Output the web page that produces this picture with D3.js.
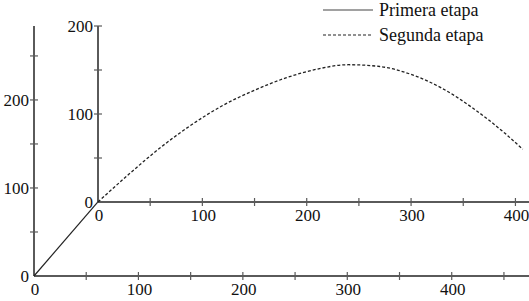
<!DOCTYPE html>
<html>
<head>
<meta charset="utf-8">
<script src="https://cdn.jsdelivr.net/npm/d3@7"></script>
<style>
  body { margin: 0; background: #fff; }
  svg { display: block; font-family: "Liberation Serif", "Times New Roman", serif; }
</style>
</head>
<body>
<svg id="chart" width="529" height="301"></svg>
<script>
// Two-stage trajectory: outer axes for stage 1, inner (shifted) axes for stage 2.

const outerXTicks = [0, 50, 100, 150, 200, 250, 300, 350, 400, 450];
const outerYTicks = [0, 50, 100, 150, 200, 250];
const innerXTicks = [0, 50, 100, 150, 200, 250, 300, 350, 400];
const innerYTicks = [0, 50, 100, 150, 200];

// stage 1 in outer coordinates
const stage1X = [0, 61];
const stage1Y = [0, 84];

// stage 2 in inner coordinates
const stage2X = [0, 30, 60, 90, 120, 150, 180, 210, 240, 270, 300, 330, 360, 390, 407];
const stage2Y = [0, 32, 62, 88, 110, 127, 141, 151, 156, 154, 145, 129, 106, 78, 60];

const legendLabels = ["Primera etapa", "Segunda etapa"];

const svg = d3.select("#chart");
const axisColor = "#5a5a5a";
const fontSize = 17;

const ox = d3.scaleLinear().domain([0, 474]).range([34, 529]);
const oy = d3.scaleLinear().domain([0, 284]).range([276, 26]);
const ix = d3.scaleLinear().domain([0, 413]).range([98, 529]);
const iy = d3.scaleLinear().domain([0, 200]).range([202, 26]);

function label(v) { return v % 100 === 0 ? v : ""; }

function drawXAxis(x, y0, ticks) {
  const g = svg.append("g").attr("transform", `translate(0,${y0})`);
  g.append("line")
    .attr("x1", x.range()[0]).attr("x2", x.range()[1])
    .attr("stroke", axisColor).attr("stroke-width", 2);
  g.selectAll(".tick").data(ticks.filter(d => d > 0)).join("line")
    .attr("x1", d => x(d)).attr("x2", d => x(d))
    .attr("y1", -4).attr("y2", 4)
    .attr("stroke", axisColor).attr("stroke-width", 1.2);
  g.selectAll(".lbl").data(ticks.filter(d => d % 100 === 0)).join("text")
    .attr("x", d => x(d) + 1)
    .attr("y", 19)
    .attr("text-anchor", "middle")
    .attr("font-size", fontSize)
    .attr("fill", "#111")
    .text(label);
}

function drawYAxis(y, x0, ticks) {
  const g = svg.append("g").attr("transform", `translate(${x0},0)`);
  g.append("line")
    .attr("y1", y.range()[0]).attr("y2", y.range()[1])
    .attr("stroke", axisColor).attr("stroke-width", 2);
  g.selectAll(".tick").data(ticks.filter(d => d > 0)).join("line")
    .attr("y1", d => y(d)).attr("y2", d => y(d))
    .attr("x1", -4).attr("x2", 4)
    .attr("stroke", axisColor).attr("stroke-width", 1.2);
  g.selectAll(".lbl").data(ticks.filter(d => d % 100 === 0)).join("text")
    .attr("x", -5)
    .attr("y", d => y(d))
    .attr("dy", "0.35em")
    .attr("text-anchor", "end")
    .attr("font-size", fontSize)
    .attr("fill", "#111")
    .text(label);
}

drawXAxis(ox, oy(0), outerXTicks);
drawYAxis(oy, ox(0), outerYTicks);
drawXAxis(ix, iy(0), innerXTicks);
drawYAxis(iy, ix(0), innerYTicks);

const line1 = d3.line().x(d => ox(d[0])).y(d => oy(d[1]));
svg.append("path")
  .datum(d3.zip(stage1X, stage1Y))
  .attr("d", line1)
  .attr("fill", "none")
  .attr("stroke", "#222")
  .attr("stroke-width", 1.2);

const line2 = d3.line().x(d => ix(d[0])).y(d => iy(d[1])).curve(d3.curveMonotoneX);
svg.append("path")
  .datum(d3.zip(stage2X, stage2Y))
  .attr("d", line2)
  .attr("fill", "none")
  .attr("stroke", "#222")
  .attr("stroke-width", 1.3)
  .attr("stroke-dasharray", "3,2");

// legend
const legend = svg.append("g");
legendLabels.forEach((name, i) => {
  const yy = 10 + i * 25;
  legend.append("line")
    .attr("x1", 323).attr("x2", 373)
    .attr("y1", yy).attr("y2", yy)
    .attr("stroke", i === 0 ? "#444" : "#222")
    .attr("stroke-width", 1.2)
    .attr("stroke-dasharray", i === 0 ? null : "3,2");
  legend.append("text")
    .attr("x", 379)
    .attr("y", yy + 6)
    .attr("font-size", 18)
    .attr("fill", "#111")
    .text(name);
});
</script>
</body>
</html>
